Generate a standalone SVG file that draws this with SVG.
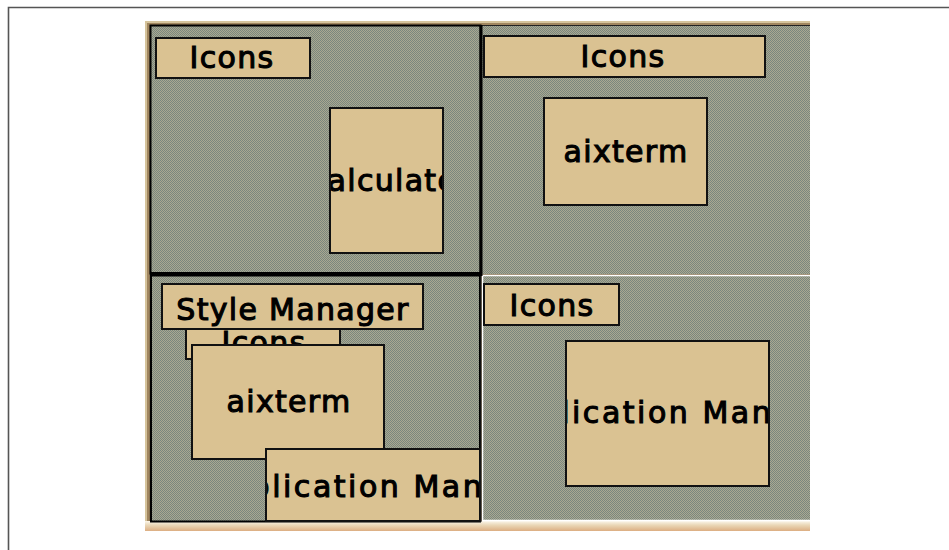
<svg xmlns="http://www.w3.org/2000/svg" width="949" height="550" viewBox="0 0 949 550">
  <defs>
    <!-- dithered workspace backdrop -->
    <pattern id="dither" width="2" height="2" patternUnits="userSpaceOnUse">
      <rect width="2" height="2" fill="#aaa891"/>
      <rect width="1" height="1" fill="#7a877e"/>
      <rect x="1" y="1" width="1" height="1" fill="#7a877e"/>
    </pattern>
    <linearGradient id="sill" x1="0" y1="0" x2="0" y2="1">
      <stop offset="0" stop-color="#fbf6ea"/>
      <stop offset="0.4" stop-color="#ead8b8"/>
      <stop offset="1" stop-color="#dcae82"/>
    </linearGradient>
    <clipPath id="shot">
      <rect x="145" y="21" width="665" height="510"/>
    </clipPath>
    <clipPath id="bl-icons-visible">
      <rect x="150" y="330" width="200" height="30"/>
    </clipPath>
    <style>
      .win { fill: #dac292; stroke: #111; stroke-width: 2; }
      .lbl { font-family: "DejaVu Sans", "Liberation Sans", sans-serif; font-size: 30px; letter-spacing: 1.3px; fill: #000; stroke: #000; stroke-width: 1.1; text-anchor: middle; }
      .wide { letter-spacing: 0; text-anchor: start; }
      .pane { fill: url(#dither); }
    </style>
  </defs>

  <!-- page frame -->
  <g id="page">
    <rect x="0" y="0" width="949" height="550" fill="#fff"/>
    <path d="M8.5 550 V7.5 H949" fill="none" stroke="#555" stroke-width="1.6"/>
  </g>

  <g id="screen" clip-path="url(#shot)">
    <!-- bevelled screen edge -->
    <rect x="145" y="21" width="670" height="510" fill="#8a7452"/>
    <rect x="145" y="21" width="670" height="2" fill="#d6c49c"/>
    <rect x="145" y="21" width="2" height="510" fill="#d6c49c"/>
    <rect x="147" y="23" width="668" height="2" fill="#a08660"/>
    <rect x="147" y="23" width="2" height="508" fill="#a08660"/>
    <rect x="145" y="521" width="670" height="10" fill="url(#sill)"/>

    <!-- top-left pane -->
    <g id="pane-tl">
      <rect class="pane" x="150" y="25" width="331" height="249"/>
      <rect x="150.5" y="25.5" width="330" height="248" fill="none" stroke="#000" stroke-width="2"/>
      <g id="tl-icons">
        <rect class="win" x="156" y="38" width="154" height="40"/>
        <text class="lbl" x="232" y="68">Icons</text>
      </g>
      <g id="tl-calculator">
        <rect class="win" x="330" y="108" width="113" height="145"/>
        <svg x="331" y="109" width="111" height="143" overflow="hidden">
          <text class="lbl" x="57" y="82">Calculator</text>
        </svg>
      </g>
    </g>

    <!-- top-right pane -->
    <g id="pane-tr">
      <rect class="pane" x="482" y="25" width="340" height="249"/>
      <line x1="482" y1="25.5" x2="815" y2="25.5" stroke="#222" stroke-width="1"/>
      <g id="tr-icons">
        <rect class="win" x="484" y="36" width="281" height="41"/>
        <text class="lbl" x="623" y="67">Icons</text>
      </g>
      <g id="tr-aixterm">
        <rect class="win" x="544" y="98" width="163" height="107"/>
        <text class="lbl" x="626" y="162">aixterm</text>
      </g>
    </g>

    <!-- bottom-left pane -->
    <g id="pane-bl">
      <rect class="pane" x="150" y="275" width="331" height="247"/>
      <rect x="151" y="275.5" width="329" height="246" fill="none" stroke="#000" stroke-width="2"/>
      <g id="bl-icons">
        <rect class="win" x="186" y="318" width="154" height="41"/>
        <text class="lbl" x="264" y="353" clip-path="url(#bl-icons-visible)">Icons</text>
      </g>
      <g id="bl-style">
        <rect class="win" x="162" y="284" width="261" height="45"/>
        <text class="lbl" x="293" y="320">Style Manager</text>
      </g>
      <g id="bl-aixterm">
        <rect class="win" x="192" y="345" width="192" height="114"/>
        <text class="lbl" x="289" y="412">aixterm</text>
      </g>
      <g id="bl-appmgr">
        <rect class="win" x="266" y="449" width="214" height="72"/>
        <svg x="267" y="450" width="212" height="70" overflow="hidden">
          <text class="lbl wide" x="-61" y="47" textLength="354" lengthAdjust="spacing">Application Manager</text>
        </svg>
      </g>
    </g>

    <!-- bottom-right pane -->
    <g id="pane-br">
      <rect class="pane" x="482" y="276" width="340" height="245"/>
      <path d="M482.5 521 V275.5 H815" fill="none" stroke="#fff" stroke-width="1.5"/>
      <line x1="482" y1="520.5" x2="815" y2="520.5" stroke="#fff" stroke-width="1.5"/>
      <g id="br-icons">
        <rect class="win" x="484" y="284" width="135" height="41"/>
        <text class="lbl" x="552" y="316">Icons</text>
      </g>
      <g id="br-appmgr">
        <rect class="win" x="566" y="341" width="203" height="145"/>
        <svg x="567" y="342" width="201" height="143" overflow="hidden">
          <text class="lbl wide" x="-72" y="81" textLength="354" lengthAdjust="spacing">Application Manager</text>
        </svg>
      </g>
    </g>

    <!-- pane dividers -->
    <g id="dividers">
      <line x1="481" y1="25" x2="481" y2="276" stroke="#000" stroke-width="3"/>
      <line x1="150" y1="273.5" x2="481" y2="273.5" stroke="#000" stroke-width="3"/>
      <line x1="481" y1="276" x2="481" y2="522" stroke="#222" stroke-width="1"/>
    </g>
  </g>
</svg>
